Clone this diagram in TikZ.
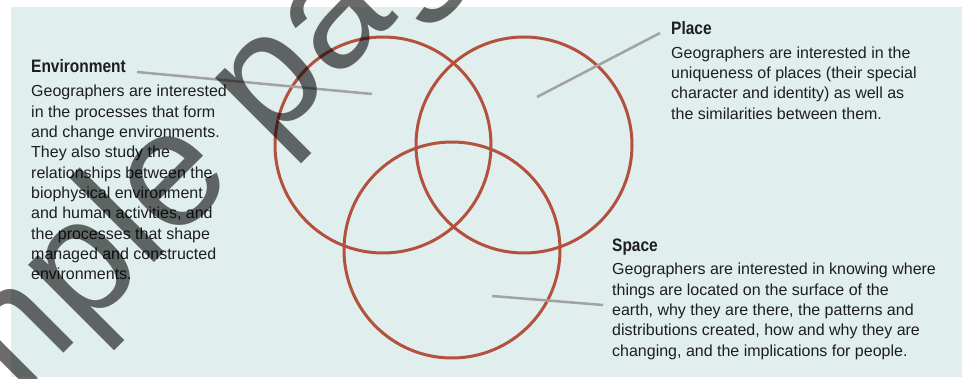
\documentclass[tikz,border=0pt]{standalone}
\usepackage{fontspec}
\setmainfont{Liberation Sans}
\newfontfamily\titlefont{Liberation Sans}[FakeStretch=0.86]
\definecolor{panel}{HTML}{E0EFED}
\definecolor{vennred}{HTML}{B3513E}
\definecolor{leadergray}{HTML}{A2A2A2}
\definecolor{txt}{HTML}{1E1E1E}
\tikzset{
  venn/.style={circle, draw=vennred, line width=3pt, minimum size=216pt, inner sep=0pt},
  leader/.style={draw=leadergray, line width=2.5pt},
  headtext/.style={anchor=base west, inner sep=0pt, text=txt, font=\titlefont\bfseries\fontsize{18}{20}\selectfont},
  bodytext/.style={anchor=base west, inner sep=0pt, text=txt, font=\fontsize{16}{20.3}\selectfont},
  wmark/.style={anchor=base west, inner sep=0pt, rotate=45, text=black, text opacity=0.58, font=\fontsize{165}{165}\selectfont}
}
\begin{document}
\begin{tikzpicture}[x=1pt,y=-1pt]
\useasboundingbox (0,0) rectangle (964,379);
\clip (0,0) rectangle (964,379);
\fill[panel] (11,7) rectangle (962,377);
% Venn circles
\node[venn] (envc) at (383,145) {};
\node[venn] (placec) at (524,145) {};
\node[venn] (spacec) at (452,250) {};
% Environment
\node[headtext] (envt) at (31,73) {Environment};
\node[bodytext] (envb) at (31,97) {\parbox[t]{300pt}{Geographers are interested\\
in the processes that form\\
and change environments.\\
They also study the\\
relationships between the\\
biophysical environment\\
and human activities, and\\
the processes that shape\\
managed and constructed\\
environments.}};
% Place
\node[headtext] (placet) at (671,35) {Place};
\node[bodytext] (placeb) at (671,58.3) {\parbox[t]{300pt}{Geographers are interested in the\\
uniqueness of places (their special\\
character and identity) as well as\\
the similarities between them.}};
% Space
\node[headtext] (spacet) at (612,252) {Space};
\node[bodytext] (spaceb) at (612,275) {\parbox[t]{360pt}{Geographers are interested in knowing where\\
things are located on the surface of the\\
earth, why they are there, the patterns and\\
distributions created, how and why they are\\
changing, and the implications for people.}};
% leader lines
\coordinate (envA) at (137,72);
\coordinate (envB) at (372,94);
\coordinate (placeA) at (660,33);
\coordinate (placeB) at (537,97);
\coordinate (spaceA) at (603,305);
\coordinate (spaceB) at (492,296);
\draw[leader] (envA) -- (envB);
\draw[leader] (placeA) -- (placeB);
\draw[leader] (spaceA) -- (spaceB);
% watermark
\node[wmark] (wm) at (-158,575) {Sample page};
\end{tikzpicture}
\end{document}
